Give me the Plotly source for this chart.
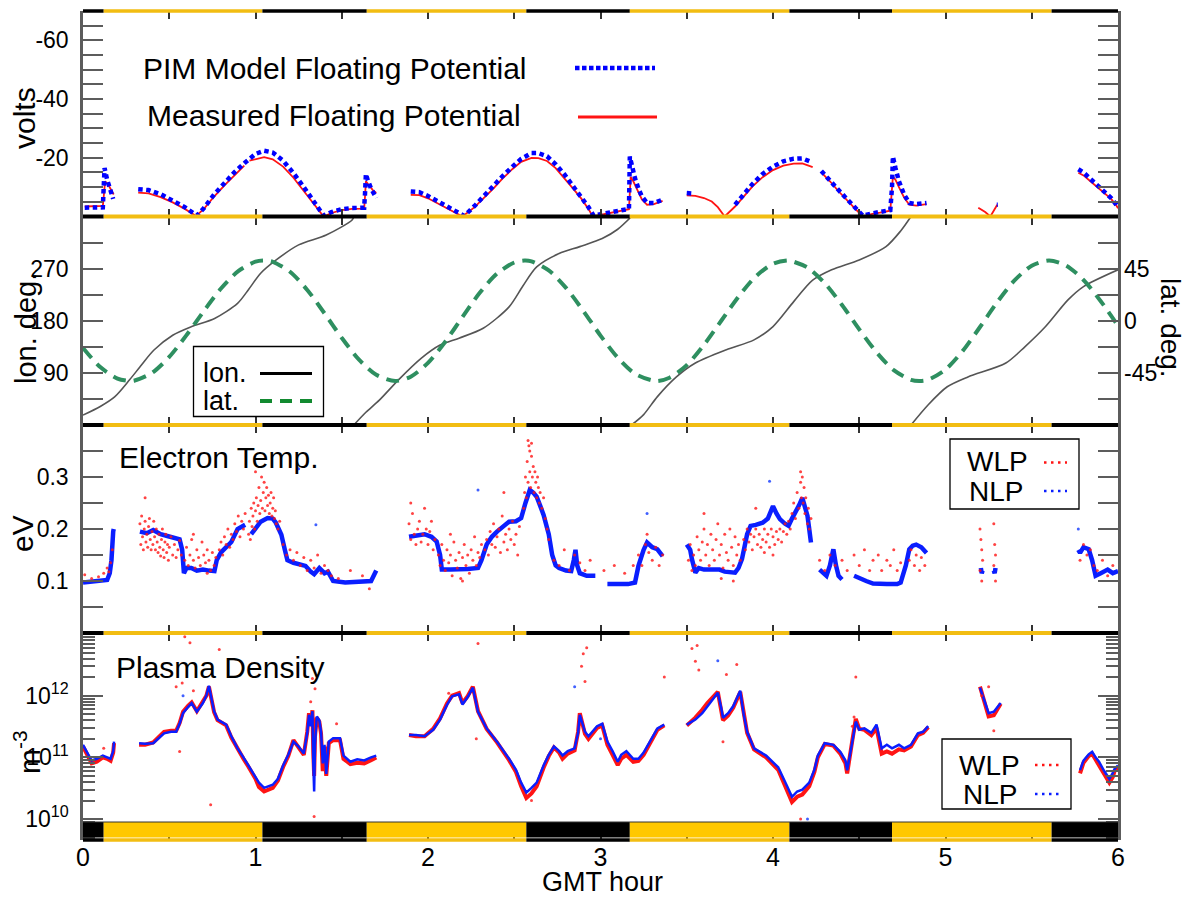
import plotly.graph_objects as go

FONT = "Liberation Sans, Arial, Helvetica, sans-serif"

# ---------------------------------------------------------------- data ----
# Orbit day/night terminator crossings (GMT hour) and state of each interval
terminator_hours = [0.0, 0.12, 1.04, 1.645, 2.57, 3.17, 4.095, 4.69, 5.615, 6.0]
terminator_state = ["night", "day", "night", "day", "night", "day", "night", "day", "night"]

# Floating potential, PIM model (volts)
pim_hour = [0.01, 0.06, 0.115, 0.12, 0.125, 0.14, 0.155, 0.175, None,
            0.32, 0.38, 0.45, 0.52, 0.59, 0.66, 0.70, 0.76, 0.82, 0.88, 0.94, 1.00, 1.05, 1.10,
            1.16, 1.22, 1.28, 1.34, 1.395, 1.44, 1.50, 1.56, 1.63, 1.635, 1.64, 1.65, 1.67, 1.70, None,
            1.90, 1.95, 2.00, 2.06, 2.12, 2.21, 2.27, 2.32, 2.38, 2.43, 2.49, 2.54, 2.60, 2.64,
            2.69, 2.74, 2.79, 2.84, 2.89, 2.93, 2.96, 3.02, 3.08, 3.15, 3.165, 3.17, 3.18, 3.20,
            3.22, 3.24, 3.27, 3.31, 3.36, None,
            3.50, 3.54, None,
            3.78, 3.83, 3.88, 3.94, 4.00, 4.06, 4.12, 4.17, 4.22, None,
            4.28, 4.33, 4.38, 4.42, 4.47, 4.52, 4.57, 4.62, 4.68, 4.69, 4.695, 4.71, 4.73, 4.76,
            4.79, 4.83, 4.89, None,
            5.297, 5.303, None,
            5.77, 5.80, 5.84, 5.88, 5.92, 5.96, 5.99, 6.0]
pim_volts = [-3.0, -3.0, -3.1, -10.0, -16.5, -12.5, -9.5, -6.0, None,
             -9.3, -9.0, -7.6, -5.6, -3.2, -0.3, -2.8, -7.5, -11.6, -15.2, -18.4, -21.3, -22.4, -21.8,
             -19.0, -14.8, -10.0, -4.8, -0.3, -1.5, -2.5, -2.9, -3.0, -8.0, -14.5, -12.5, -9.5, -6.3, None,
             -8.5, -8.3, -7.0, -5.0, -2.9, -0.2, -3.6, -6.8, -10.5, -13.6, -17.0, -19.6, -21.6, -21.6,
             -20.5, -17.8, -14.4, -10.6, -6.8, -3.2, -0.3, -1.0, -1.8, -2.5, -2.6, -20.4, -17.5, -13.0,
             -9.5, -6.8, -4.6, -4.6, -5.7, None,
             -8.0, -7.8, None,
             -4.0, -7.5, -11.0, -14.5, -17.0, -18.8, -19.7, -19.8, -18.6, None,
             -15.5, -12.5, -9.0, -6.5, -3.5, -0.3, -1.0, -1.5, -2.2, -10.0, -20.4, -16.5, -12.0, -7.5,
             -4.6, -4.2, -4.6, None,
             -4.0, -4.0, None,
             -16.1, -15.0, -12.8, -10.6, -8.6, -6.3, -4.0, -3.0]

# Floating potential, measured (volts)
meas_hour = [0.01, 0.06, 0.115, 0.122, 0.128, 0.145, 0.16, 0.178, None,
             0.32, 0.38, 0.45, 0.52, 0.59, 0.655, 0.70, 0.76, 0.82, 0.88, 0.935, None,
             0.965, 1.00, 1.05, 1.10, 1.16, 1.22, 1.28, 1.34, 1.395, 1.44, 1.50, 1.56, 1.63, 1.635,
             1.64, 1.66, 1.68, 1.70, None,
             1.90, 1.95, 2.00, 2.06, 2.12, 2.20, 2.27, 2.32, 2.38, 2.43, 2.49, 2.54, 2.60, 2.64,
             2.69, 2.74, 2.79, 2.84, 2.89, 2.93, 2.955, 3.02, 3.08, 3.15, 3.165, 3.175, 3.19, 3.21,
             3.24, 3.27, 3.31, 3.36, None,
             3.50, 3.55, 3.60, 3.645, 3.68, 3.72, 3.78, 3.83, 3.88, 3.94, 4.00, 4.06, 4.12, 4.17,
             4.23, None,
             4.28, 4.33, 4.38, 4.42, 4.47, 4.52, 4.57, 4.62, 4.68, 4.695, 4.71, 4.73, 4.76, 4.79,
             4.83, 4.89, None,
             5.19, 5.23, 5.26, 5.28, 5.30, None,
             5.77, 5.80, 5.84, 5.88, 5.92, 5.96, 5.99, 6.0]
meas_volts = [-3.4, -3.4, -3.6, -8.0, -12.0, -11.0, -9.2, -7.5, None,
              -8.1, -7.9, -6.6, -4.8, -2.6, -0.2, -2.5, -6.8, -10.6, -14.0, -17.3, None,
              -19.0, -19.6, -20.2, -19.5, -17.0, -13.2, -8.8, -4.0, 0.0, -1.2, -2.2, -2.6, -2.7, -7.0,
              -12.0, -10.5, -9.0, -8.0, None,
              -7.4, -7.3, -6.2, -4.4, -2.4, 0.0, -3.2, -6.0, -9.6, -12.8, -16.2, -18.6, -20.0, -19.9,
              -18.9, -16.5, -13.2, -9.6, -6.0, -2.6, 0.0, -0.8, -1.6, -2.3, -2.5, -13.5, -12.0, -9.5,
              -5.8, -4.0, -4.2, -5.3, None,
              -7.2, -7.0, -6.3, -5.1, -3.2, 0.0, -3.4, -7.0, -10.2, -13.4, -15.8, -17.3, -18.0, -18.1,
              -16.8, None,
              -15.0, -12.0, -8.6, -6.0, -3.0, 0.0, -0.8, -1.3, -2.0, -13.6, -12.5, -10.0, -6.5, -4.0,
              -3.7, -4.2, None,
              -3.0, -1.5, 0.0, -2.0, -4.0, None,
              -14.9, -14.0, -12.0, -10.0, -8.0, -6.0, -3.8, -2.8]

# Ground track: longitude (deg, wraps at 360) and latitude (deg)
lon_hour = [0.0, 0.1, 0.185, 0.27, 0.34, 0.41, 0.52, 0.63, 0.763, 0.896, 0.96, 1.03, 1.12, 1.25,
            1.41, 1.56, 1.57, None,
            1.57, 1.64, 1.718, 1.829, 1.96, 2.07, 2.18, 2.32, 2.47, 2.55, 2.63, 2.76, 2.88, 3.01,
            3.10, 3.18, None,
            3.18, 3.25, 3.33, 3.44, 3.55, 3.73, 3.89, 4.0, 4.12, 4.23, 4.34, 4.50, 4.655, 4.74, 4.80, None,
            4.80, 4.90, 5.01, 5.13, 5.35, 5.46, 5.58, 5.71, 5.80, 6.0]
lon_deg = [17, 32, 49, 78, 104, 129, 155, 170, 184, 210, 234, 262, 285, 311, 328, 354, 360, None,
           0, 22, 43, 78, 115, 138, 150, 167, 204, 240, 273, 296, 308, 322, 338, 360, None,
           0, 18, 49, 83, 107, 130, 147, 170, 213, 250, 268, 285, 308, 335, 360, None,
           0, 35, 66, 83, 107, 135, 170, 216, 239, 268]

lat_hour = [0.0, 0.1, 0.2, 0.27, 0.3, 0.4, 0.5, 0.6, 0.7, 0.8, 0.9, 1.0,
            1.05, 1.1, 1.2, 1.3, 1.4, 1.5, 1.6, 1.7, 1.81,
            1.9, 2.0, 2.1, 2.2, 2.3, 2.4, 2.5, 2.56,
            2.6, 2.7, 2.8, 2.9, 3.0, 3.1, 3.2, 3.32,
            3.4, 3.5, 3.6, 3.7, 3.8, 3.9, 4.0,
            4.08, 4.1, 4.2, 4.3, 4.4, 4.5, 4.6, 4.7, 4.8, 4.85,
            4.9, 5.0, 5.1, 5.2, 5.3, 5.4, 5.5, 5.6,
            5.7, 5.8, 5.9, 6.0]
lat_deg = [-23.5, -40.0, -49.9, -52.0, -51.6, -45.0, -31.2, -12.4, 8.3, 27.8, 42.8, 51.0,
           52.0, 50.9, 42.3, 26.6, 6.4, -14.8, -33.6, -46.7, -52.0,
           -48.3, -36.4, -18.1, 3.3, 24.1, 40.7, 50.3, 52.0,
           51.3, 43.5, 28.4, 8.6, -12.8, -31.9, -45.7, -52.0,
           -49.2, -38.3, -20.8, 0.0, 20.8, 38.3, 49.2,
           52.0, 51.8, 45.9, 32.4, 13.6, -7.4, -27.2, -42.6, -51.0, -52.0,
           -50.9, -42.1, -26.0, -5.4, 16.1, 34.8, 47.5, 52.0,
           47.6, 35.2, 16.9, -4.3]

# Electron temperature, NLP (eV)
te_nlp_hour = [0.0, 0.04, 0.08, 0.12, 0.14, 0.155, 0.165, 0.175, 0.178, None,
               0.33, 0.37, 0.407, 0.45, 0.494, 0.53, 0.56, 0.575, 0.585, 0.60, 0.628, 0.66, 0.695,
               0.73, 0.762, 0.775, 0.80, 0.83, 0.86, 0.896, 0.92, 0.94, None,
               0.975, 1.0, 1.03, 1.07, 1.10, 1.118, 1.15, 1.17, 1.185, 1.22, 1.25, 1.29, 1.32, 1.34,
               1.37, 1.40, 1.42, 1.45, 1.52, 1.58, 1.63, 1.67, 1.70, None,
               1.89, 1.93, 1.98, 2.02, 2.05, 2.07, 2.08, 2.13, 2.18, 2.23, 2.29, 2.31, 2.34, 2.37,
               2.40, 2.44, 2.47, 2.51, 2.54, 2.565, 2.59, 2.61, 2.63, 2.65, 2.67, 2.70, 2.72, 2.74,
               2.76, 2.80, 2.83, 2.845, 2.855, 2.865, 2.88, 2.92, 2.97, None,
               3.04, 3.10, 3.16, 3.20, 3.22, 3.25, 3.27, 3.30, 3.33, 3.36, None,
               3.50, 3.52, 3.53, 3.55, 3.57, 3.60, 3.65, 3.69, 3.72, 3.76, 3.78, 3.80, 3.82, 3.85,
               3.87, 3.90, 3.94, 3.97, 4.0, 4.02, 4.04, 4.07, 4.09, 4.11, 4.13, 4.15, 4.17, 4.19,
               4.20, 4.21, 4.22, None,
               4.27, 4.29, 4.31, 4.33, 4.35, 4.365, 4.38, 4.40, None,
               4.47, 4.50, 4.54, 4.58, 4.61, 4.66, 4.72, 4.74, 4.77, 4.79, 4.81, 4.83, 4.86, 4.89, None,
               5.205, 5.21, 5.215, None, 5.28, 5.285, 5.29, None,
               5.77, 5.78, 5.80, 5.83, 5.85, 5.87, 5.90, 5.94, 5.97, 6.0]
te_nlp_ev = [0.097, 0.098, 0.099, 0.100, 0.102, 0.115, 0.14, 0.195, 0.20, None,
             0.195, 0.192, 0.198, 0.19, 0.186, 0.183, 0.180, 0.16, 0.115, 0.125, 0.125, 0.12, 0.122,
             0.12, 0.119, 0.14, 0.155, 0.165, 0.175, 0.200, 0.205, 0.208, None,
             0.19, 0.20, 0.214, 0.221, 0.22, 0.212, 0.189, 0.16, 0.14, 0.135, 0.132, 0.129, 0.118, 0.113,
             0.125, 0.115, 0.118, 0.10, 0.097, 0.098, 0.099, 0.10, 0.12, None,
             0.185, 0.188, 0.19, 0.185, 0.176, 0.15, 0.122, 0.122, 0.122, 0.123, 0.125, 0.14, 0.17, 0.185,
             0.195, 0.205, 0.214, 0.215, 0.221, 0.25, 0.275, 0.27, 0.262, 0.245, 0.227, 0.19, 0.15, 0.13,
             0.125, 0.12, 0.119, 0.14, 0.16, 0.13, 0.115, 0.11, 0.11, None,
             0.094, 0.095, 0.094, 0.097, 0.129, 0.16, 0.174, 0.165, 0.161, 0.148, None,
             0.17, 0.16, 0.142, 0.116, 0.125, 0.122, 0.122, 0.122, 0.118, 0.116, 0.116, 0.125, 0.142, 0.19,
             0.206, 0.208, 0.212, 0.22, 0.244, 0.23, 0.219, 0.21, 0.206, 0.22, 0.231, 0.245, 0.26, 0.24,
             0.225, 0.2, 0.174, None,
             0.122, 0.115, 0.11, 0.13, 0.161, 0.13, 0.11, 0.103, None,
             0.11, 0.105, 0.10, 0.095, 0.094, 0.094, 0.094, 0.097, 0.13, 0.161, 0.168, 0.17, 0.165, 0.154, None,
             0.125, 0.115, 0.12, None, 0.12, 0.115, 0.125, None,
             0.16, 0.154, 0.165, 0.161, 0.14, 0.11, 0.115, 0.122, 0.115, 0.119]
te_nlp_stray = [(1.25, 0.316), (2.29, 0.275), (1.35, 0.208), (3.98, 0.292), (3.27, 0.23), (5.77, 0.2)]

# Electron temperature, WLP samples (hour, eV)
te_wlp = [
    (0.01, 0.112), (0.05, 0.105), (0.09, 0.108), (0.12, 0.115), (0.14, 0.125), (0.15, 0.118),
    (0.16, 0.135), (0.17, 0.16),
    (0.33, 0.21), (0.335, 0.17), (0.34, 0.225), (0.345, 0.185), (0.35, 0.16), (0.355, 0.2),
    (0.36, 0.215), (0.365, 0.175), (0.37, 0.19), (0.375, 0.165), (0.38, 0.205), (0.385, 0.22),
    (0.39, 0.18), (0.395, 0.16), (0.40, 0.195), (0.405, 0.17), (0.41, 0.215), (0.415, 0.185),
    (0.42, 0.16), (0.425, 0.2), (0.43, 0.175), (0.435, 0.155), (0.44, 0.19), (0.445, 0.165),
    (0.45, 0.148), (0.455, 0.18), (0.46, 0.2), (0.465, 0.16), (0.47, 0.145), (0.475, 0.175),
    (0.48, 0.19), (0.485, 0.155), (0.49, 0.17), (0.495, 0.14), (0.50, 0.165), (0.51, 0.185),
    (0.52, 0.15), (0.53, 0.17), (0.54, 0.145), (0.55, 0.16), (0.56, 0.178), (0.57, 0.15), (0.36, 0.26),
    (0.59, 0.14), (0.60, 0.165), (0.61, 0.13), (0.62, 0.15), (0.63, 0.18), (0.64, 0.14), (0.65, 0.125),
    (0.66, 0.16), (0.67, 0.145), (0.68, 0.13), (0.69, 0.175), (0.70, 0.15), (0.71, 0.135), (0.72, 0.16),
    (0.73, 0.14), (0.74, 0.12), (0.75, 0.155), (0.76, 0.13), (0.77, 0.145), (0.64, 0.19), (0.72, 0.115),
    (0.79, 0.16), (0.80, 0.175), (0.81, 0.15), (0.82, 0.185), (0.83, 0.17), (0.84, 0.2), (0.85, 0.165),
    (0.86, 0.19), (0.87, 0.18), (0.88, 0.21), (0.89, 0.195), (0.90, 0.225), (0.91, 0.185), (0.92, 0.215),
    (0.93, 0.2), (0.94, 0.23),
    (0.96, 0.19), (0.965, 0.215), (0.97, 0.18), (0.975, 0.24), (0.98, 0.205), (0.985, 0.225),
    (0.99, 0.25), (0.995, 0.2), (1.0, 0.235), (1.005, 0.26), (1.01, 0.215), (1.015, 0.245),
    (1.02, 0.28), (1.025, 0.23), (1.03, 0.255), (1.035, 0.3), (1.04, 0.24), (1.045, 0.27),
    (1.05, 0.29), (1.055, 0.235), (1.06, 0.26), (1.065, 0.28), (1.07, 0.245), (1.075, 0.265),
    (1.08, 0.23), (1.085, 0.25), (1.09, 0.27), (1.095, 0.225), (1.10, 0.24), (1.105, 0.26),
    (1.11, 0.22), (1.115, 0.235), (1.12, 0.21), (1.13, 0.2), (1.14, 0.215), (1.0, 0.31),
    (1.16, 0.17), (1.18, 0.15), (1.20, 0.16), (1.22, 0.14), (1.24, 0.155), (1.26, 0.13), (1.28, 0.145),
    (1.30, 0.12), (1.32, 0.14), (1.34, 0.125), (1.36, 0.15), (1.38, 0.115), (1.40, 0.13), (1.42, 0.12),
    (1.44, 0.11), (1.48, 0.105), (1.55, 0.12), (1.62, 0.11), (1.66, 0.085),
    (1.89, 0.21), (1.90, 0.18), (1.91, 0.23), (1.92, 0.19), (1.93, 0.17), (1.94, 0.2), (1.95, 0.215),
    (1.96, 0.175), (1.97, 0.19), (1.98, 0.24), (1.99, 0.2), (2.0, 0.17), (2.01, 0.195), (2.02, 0.215),
    (2.03, 0.16), (2.04, 0.18), (1.90, 0.25),
    (2.06, 0.15), (2.07, 0.13), (2.08, 0.17), (2.09, 0.14), (2.10, 0.12), (2.11, 0.16), (2.12, 0.135),
    (2.13, 0.15), (2.14, 0.11), (2.15, 0.175), (2.16, 0.14), (2.17, 0.125), (2.18, 0.155), (2.19, 0.105),
    (2.20, 0.145), (2.21, 0.17), (2.22, 0.13), (2.23, 0.15), (2.24, 0.115), (2.25, 0.16), (2.26, 0.14),
    (2.27, 0.185), (2.28, 0.13), (2.29, 0.155), (2.30, 0.145), (2.31, 0.17), (2.13, 0.19), (2.20, 0.10),
    (2.33, 0.16), (2.34, 0.18), (2.35, 0.15), (2.36, 0.195), (2.37, 0.17), (2.38, 0.21), (2.39, 0.165),
    (2.40, 0.185), (2.41, 0.2), (2.42, 0.155), (2.43, 0.225), (2.44, 0.175), (2.45, 0.19), (2.46, 0.16),
    (2.47, 0.2), (2.48, 0.18), (2.49, 0.215), (2.50, 0.17), (2.51, 0.19), (2.52, 0.15), (2.53, 0.205),
    (2.44, 0.27),
    (2.555, 0.24), (2.56, 0.27), (2.565, 0.3), (2.57, 0.26), (2.575, 0.33), (2.58, 0.29), (2.585, 0.36),
    (2.59, 0.31), (2.595, 0.28), (2.60, 0.34), (2.605, 0.3), (2.61, 0.32), (2.615, 0.27), (2.62, 0.31),
    (2.625, 0.29), (2.63, 0.26), (2.635, 0.3), (2.64, 0.28), (2.645, 0.25), (2.65, 0.27), (2.66, 0.24),
    (2.67, 0.26), (2.68, 0.22), (2.69, 0.2), (2.70, 0.18), (2.58, 0.37), (2.59, 0.35), (2.60, 0.365),
    (2.73, 0.14), (2.76, 0.13), (2.79, 0.16), (2.82, 0.12), (2.85, 0.15), (2.88, 0.135), (2.91, 0.12),
    (2.94, 0.14), (3.02, 0.12), (3.08, 0.13), (3.14, 0.115), (3.19, 0.13),
    (3.22, 0.15), (3.24, 0.13), (3.26, 0.17), (3.28, 0.155), (3.30, 0.14), (3.32, 0.165), (3.34, 0.13),
    (3.36, 0.15), (3.27, 0.19),
    (3.51, 0.14), (3.52, 0.17), (3.53, 0.12), (3.54, 0.15), (3.55, 0.13), (3.56, 0.185), (3.57, 0.16),
    (3.58, 0.14), (3.59, 0.175), (3.60, 0.2), (3.61, 0.15), (3.62, 0.17), (3.63, 0.13), (3.64, 0.19),
    (3.65, 0.16), (3.66, 0.14), (3.67, 0.18), (3.68, 0.21), (3.69, 0.15), (3.70, 0.17), (3.71, 0.125),
    (3.72, 0.19), (3.73, 0.155), (3.74, 0.14), (3.75, 0.2), (3.76, 0.165), (3.77, 0.13), (3.78, 0.185),
    (3.79, 0.15), (3.80, 0.17), (3.81, 0.14), (3.60, 0.23), (3.70, 0.105), (3.77, 0.1),
    (3.83, 0.18), (3.84, 0.16), (3.85, 0.2), (3.86, 0.175), (3.87, 0.19), (3.88, 0.16), (3.89, 0.185),
    (3.90, 0.2), (3.91, 0.17), (3.92, 0.19), (3.93, 0.165), (3.94, 0.18), (3.95, 0.2), (3.96, 0.175),
    (3.97, 0.19), (3.98, 0.165), (3.99, 0.2), (4.00, 0.185), (4.01, 0.17), (4.02, 0.195), (4.03, 0.18),
    (4.04, 0.2), (4.05, 0.175), (4.06, 0.195), (4.07, 0.21), (4.08, 0.19), (4.09, 0.215), (4.10, 0.2),
    (3.95, 0.155), (4.0, 0.15), (3.90, 0.24),
    (4.11, 0.23), (4.12, 0.25), (4.13, 0.22), (4.14, 0.27), (4.15, 0.24), (4.16, 0.29), (4.165, 0.26),
    (4.17, 0.3), (4.175, 0.25), (4.18, 0.28), (4.185, 0.23), (4.19, 0.26), (4.20, 0.21), (4.205, 0.24),
    (4.21, 0.2), (4.22, 0.22), (4.16, 0.31),
    (4.27, 0.14), (4.30, 0.12), (4.33, 0.15), (4.36, 0.13), (4.40, 0.14), (4.43, 0.12),
    (4.47, 0.15), (4.50, 0.13), (4.53, 0.16), (4.56, 0.12), (4.58, 0.14), (4.61, 0.15), (4.63, 0.12),
    (4.66, 0.14), (4.68, 0.13), (4.70, 0.16), (4.72, 0.12), (4.74, 0.135),
    (4.79, 0.14), (4.80, 0.16), (4.82, 0.13), (4.83, 0.15), (4.85, 0.12), (4.86, 0.145), (4.88, 0.13),
    (5.20, 0.2), (5.205, 0.18), (5.21, 0.16), (5.215, 0.14), (5.20, 0.12), (5.21, 0.1),
    (5.28, 0.21), (5.285, 0.17), (5.29, 0.15), (5.28, 0.13), (5.29, 0.1),
    (5.78, 0.14), (5.80, 0.17), (5.82, 0.15), (5.84, 0.16), (5.86, 0.13), (5.88, 0.12), (5.91, 0.14),
    (5.94, 0.11), (5.97, 0.13),
]

# Plasma density (m^-3): shared sample hours, NLP and WLP values
ne_hour = [0.0, 0.03, 0.05, 0.08, 0.115, 0.14, 0.16, 0.175, 0.18, None,
           0.325, 0.36, 0.407, 0.44, 0.47, 0.51, 0.54, 0.56, 0.58, 0.61, 0.63, 0.66, 0.695, 0.715, 0.73,
           0.745, 0.76, 0.78, 0.83, 0.86, 0.896, 0.93, 0.96, 1.0, 1.02, 1.05, 1.1, 1.13, 1.16, 1.19,
           1.22, 1.25, 1.28, 1.30, 1.31, 1.32, 1.33, 1.335, 1.34, 1.345, 1.355, 1.37, 1.38, 1.39, 1.40,
           1.41, 1.425, 1.45, 1.49, 1.51, 1.55, 1.59, 1.63, 1.67, 1.70, None,
           1.89, 1.93, 1.98, 2.03, 2.07, 2.11, 2.14, 2.18, 2.20, 2.23, 2.26, 2.29, 2.34, 2.40, 2.47,
           2.51, 2.54, 2.57, 2.60, 2.63, 2.67, 2.70, 2.73, 2.76, 2.78, 2.81, 2.85, 2.87, 2.88, 2.895,
           2.91, 2.93, 2.96, 2.98, 3.01, 3.04, 3.07, 3.10, 3.12, 3.15, 3.19, 3.22, 3.25, 3.27, 3.30,
           3.33, 3.37, None,
           3.50, 3.55, 3.59, 3.62, 3.68, 3.70, 3.71, 3.74, 3.77, 3.81, 3.83, 3.85, 3.89, 3.96, 4.03,
           4.08, 4.11, 4.14, 4.17, 4.21, 4.24, 4.26, 4.30, 4.35, 4.39, 4.42, 4.43, 4.46, 4.48, 4.50,
           4.53, 4.57, 4.60, 4.63, 4.66, 4.69, 4.73, 4.76, 4.80, 4.84, 4.87, 4.90, None,
           5.20, 5.23, 5.25, 5.28, 5.30, 5.32, None,
           5.78, 5.80, 5.83, 5.85, 5.87, 5.89, 5.92, 5.95, 5.97, 5.98, 6.0]
ne_nlp = [1.6e11, 1.1e11, 8.9e10, 9.5e10, 1.07e11, 1.0e11, 9.5e10, 1.26e11, 1.8e11, None,
          1.7e11, 1.66e11, 1.7e11, 2.1e11, 2.45e11, 2.6e11, 2.6e11, 3.5e11, 5.2e11, 6.6e11, 7.6e11,
          5.5e11, 7.6e11, 1.0e12, 1.45e12, 8.9e11, 5.6e11, 4.1e11, 3.4e11, 2.2e11, 1.4e11, 1.0e11,
          7.4e10, 5.0e10, 3.9e10, 3.2e10, 3.6e10, 4.5e10, 7.4e10, 1.1e11, 1.8e11, 1.5e11, 1.15e11,
          2.5e11, 4.9e11, 3.2e11, 5.6e11, 8.0e10, 2.8e10, 1.6e11, 4.6e11, 4.0e11, 2.6e11, 8.0e10,
          1.6e11, 5.4e10, 1.8e11, 2.05e11, 2.05e11, 1.07e11, 8.5e10, 9.3e10, 8.9e10, 1.0e11, 1.07e11, None,
          2.3e11, 2.3e11, 2.2e11, 2.8e11, 4.1e11, 7.1e11, 9.8e11, 1.05e12, 7.2e11, 9.5e11, 1.35e12,
          5.5e11, 2.95e11, 1.8e11, 9.5e10, 6.3e10, 3.9e10, 2.7e10, 3.2e10, 3.9e10, 7.4e10, 1.1e11,
          1.5e11, 1.26e11, 1.07e11, 1.26e11, 1.4e11, 2.5e11, 4.9e11, 3.5e11, 2.6e11, 2.2e11, 2.8e11,
          3.2e11, 3.5e11, 1.8e11, 1.26e11, 8.5e10, 1.1e11, 1.26e11, 9.5e10, 9.5e10, 1.2e11, 1.5e11,
          2.0e11, 2.95e11, 3.4e11, None,
          3.4e11, 4.1e11, 5.2e11, 6.8e11, 1.12e12, 6.3e11, 4.4e11, 5.2e11, 6.8e11, 1.2e12, 5.0e11,
          2.6e11, 1.4e11, 1.07e11, 6.9e10, 3.5e10, 2.3e10, 2.8e10, 3.0e10, 3.9e10, 6.3e10, 1.07e11,
          1.7e11, 1.6e11, 1.23e11, 8.9e10, 6.2e10, 1.8e11, 3.8e11, 2.8e11, 2.95e11, 2.5e11, 3.4e11,
          1.4e11, 1.6e11, 1.4e11, 1.6e11, 1.4e11, 1.6e11, 2.45e11, 2.6e11, 3.2e11, None,
          1.35e12, 7.9e11, 5.2e11, 5.5e11, 6.6e11, 7.6e11, None,
          6.2e10, 8.9e10, 1.12e11, 1.23e11, 1.0e11, 8.5e10, 6.0e10, 4.5e10, 5.6e10, 6.5e10, 7.4e10]
ne_wlp = [1.5e11, 1.0e11, 8.0e10, 8.5e10, 1.0e11, 9.5e10, 8.8e10, 1.2e11, 1.7e11, None,
          1.6e11, 1.6e11, 1.75e11, 2.2e11, 2.6e11, 2.7e11, 2.7e11, 3.6e11, 5.5e11, 6.9e11, 7.8e11,
          5.6e11, 7.8e11, 1.0e12, 1.4e12, 8.6e11, 5.4e11, 4.0e11, 3.3e11, 2.1e11, 1.35e11, 9.5e10,
          7.0e10, 4.5e10, 3.3e10, 2.8e10, 3.2e10, 4.2e10, 7.0e10, 1.05e11, 1.9e11, 1.45e11, 1.1e11,
          2.6e11, 5.2e11, 3.3e11, 5.8e11, 1.2e11, 5.0e10, 2.2e11, 4.4e11, 3.8e11, 2.4e11, 6.0e10,
          1.5e11, 5.0e10, 1.7e11, 1.9e11, 1.9e11, 9.5e10, 7.8e10, 8.2e10, 8.0e10, 9.0e10, 1.0e11, None,
          2.3e11, 2.2e11, 2.2e11, 2.9e11, 4.3e11, 7.5e11, 1.0e12, 1.1e12, 7.6e11, 9.8e11, 1.4e12,
          5.6e11, 2.9e11, 1.75e11, 9.0e10, 5.8e10, 3.4e10, 2.2e10, 2.6e10, 3.4e10, 6.8e10, 1.05e11,
          1.45e11, 1.2e11, 9.5e10, 1.15e11, 1.3e11, 2.6e11, 5.2e11, 3.4e11, 2.4e11, 2.0e11, 2.6e11,
          3.0e11, 3.3e11, 1.6e11, 1.1e11, 7.5e10, 9.5e10, 1.1e11, 8.5e10, 8.8e10, 1.1e11, 1.4e11,
          1.9e11, 2.8e11, 3.3e11, None,
          3.3e11, 4.4e11, 5.9e11, 7.6e11, 1.15e12, 6.0e11, 4.0e11, 4.8e11, 6.4e11, 1.15e12, 5.2e11,
          2.5e11, 1.35e11, 1.0e11, 6.3e10, 3.0e10, 1.9e10, 2.3e10, 2.5e10, 3.4e10, 5.8e10, 1.0e11,
          1.65e11, 1.55e11, 1.15e11, 8.0e10, 5.5e10, 1.9e11, 4.2e11, 2.9e11, 2.8e11, 2.3e11, 3.0e11,
          1.15e11, 1.25e11, 1.15e11, 1.35e11, 1.3e11, 1.5e11, 2.3e11, 2.5e11, 3.1e11, None,
          1.4e12, 7.2e11, 4.6e11, 4.8e11, 6.2e11, 7.4e11, None,
          5.5e10, 8.2e10, 1.05e11, 1.15e11, 9.2e10, 7.5e10, 5.2e10, 3.9e10, 4.8e10, 6.0e10, 6.8e10]
ne_wlp_stray = [(0.575, 1.6e12), (0.59, 9.0e12), (0.62, 7.2e12), (0.79, 5.6e12), (0.56, 1.25e11),
                (0.74, 1.7e10), (0.54, 1.4e12), (0.64, 1.2e12), (1.33, 1.9e12), (1.345, 1.3e12),
                (1.34, 1.1e10), (1.32, 8.0e11), (1.47, 3.5e11), (2.29, 7.0e12), (2.12, 1.1e12),
                (2.28, 2.0e11), (2.90, 4.8e12), (2.89, 3.0e12), (2.91, 1.7e12), (2.92, 6.0e12),
                (3.37, 2.0e12), (3.53, 5.8e12), (3.55, 3.6e12), (3.57, 2.6e12), (3.56, 6.5e12),
                (3.73, 2.2e12), (3.79, 3.2e12), (3.71, 1.8e11), (4.48, 2.0e12), (4.46, 3.2e11),
                (4.47, 4.5e11), (5.28, 2.7e11), (5.21, 1.0e12), (5.25, 1.4e12), (4.16, 1.0e10),
                (2.60, 2.0e10), (0.12, 1.4e11)]
ne_nlp_stray = [(3.68, 3.7e12), (4.20, 1.0e10), (0.58, 1.0e12), (2.85, 1.4e12), (3.00, 2.0e11)]

# Tick labels
volt_ticks, volt_labels = [-60, -40, -20], ["-60", "-40", "-20"]
lon_ticks, lon_labels = [90, 180, 270], ["90", "180", "270"]
lat_ticks, lat_labels = [-45, 0, 45], ["-45", "0", "45"]
te_ticks, te_labels = [0.1, 0.2, 0.3], ["0.1", "0.2", "0.3"]
ne_ticks, ne_labels = [1e10, 1e11, 1e12], ["10<sup>10</sup>", "10<sup>11</sup>", "10<sup>12</sup>"]

# ---------------------------------------------------------------- layout ---
W, H = 1188, 899
ML, MR, MT, MB = 83, 70, 11, 59
PW, PH = W - ML - MR, H - MT - MB


def px(x):
    return (x - ML) / PW


def py(y):
    return (H - MB - y) / PH


DOM1 = [py(216.5), 1.0]
DOM2 = [py(425), py(216.5)]
DOM3 = [py(633), py(425)]
DOM4 = [0.0, py(633)]

FRAME = "#5c5c5c"
BLUE = "#0a1eff"
RED = "#ff1414"

fig = go.Figure()

# panel 1: floating potential
fig.add_trace(go.Scatter(x=meas_hour, y=meas_volts, mode="lines", xaxis="x", yaxis="y",
                         line=dict(color=RED, width=1.8), hoverinfo="skip"))
fig.add_trace(go.Scatter(x=pim_hour, y=pim_volts, mode="lines", xaxis="x", yaxis="y",
                         line=dict(color="#0000ff", width=4.5, dash="4.5px,3.5px"), hoverinfo="skip"))

# panel 2: ground track
fig.add_trace(go.Scatter(x=lon_hour, y=lon_deg, mode="lines", xaxis="x2", yaxis="y2",
                         line=dict(color="#555555", width=1.6, shape="spline", smoothing=0.8)))
fig.add_trace(go.Scatter(x=lat_hour, y=lat_deg, mode="lines", xaxis="x2", yaxis="y5",
                         line=dict(color="#2e8f60", width=4, dash="13px,8px", shape="spline",
                                   smoothing=0.8)))

# panel 3: electron temperature
fig.add_trace(go.Scatter(x=te_nlp_hour, y=te_nlp_ev, mode="lines", xaxis="x3", yaxis="y3",
                         line=dict(color=BLUE, width=4.5)))
fig.add_trace(go.Scatter(x=[p[0] for p in te_nlp_stray], y=[p[1] for p in te_nlp_stray],
                         mode="markers", xaxis="x3", yaxis="y3",
                         marker=dict(color="#4060ff", size=3)))
fig.add_trace(go.Scatter(x=[p[0] for p in te_wlp], y=[p[1] for p in te_wlp],
                         mode="markers", xaxis="x3", yaxis="y3",
                         marker=dict(color=RED, size=3, opacity=0.8)))

# panel 4: plasma density
fig.add_trace(go.Scatter(x=ne_hour, y=ne_wlp, mode="lines", xaxis="x4", yaxis="y4",
                         line=dict(color=RED, width=4)))
fig.add_trace(go.Scatter(x=ne_hour, y=ne_nlp, mode="lines", xaxis="x4", yaxis="y4",
                         line=dict(color=BLUE, width=2.5)))
fig.add_trace(go.Scatter(x=[p[0] for p in ne_wlp_stray], y=[p[1] for p in ne_wlp_stray],
                         mode="markers", xaxis="x4", yaxis="y4",
                         marker=dict(color=RED, size=3, opacity=0.8)))
fig.add_trace(go.Scatter(x=[p[0] for p in ne_nlp_stray], y=[p[1] for p in ne_nlp_stray],
                         mode="markers", xaxis="x4", yaxis="y4",
                         marker=dict(color="#4060ff", size=3)))

tick_font = dict(family=FONT, size=23, color="black")
half_hours = [h / 2 for h in range(13)]


def x_axis(anchor, labels):
    return dict(domain=[0, 1], anchor=anchor, range=[0, 6], showgrid=False, zeroline=False,
                showline=False, ticks="inside", ticklen=8, tickwidth=1.5, tickcolor="#333333",
                mirror="ticks", tickmode="array", tickvals=half_hours,
                ticktext=[str(int(h)) if h == int(h) else "" for h in half_hours],
                showticklabels=labels, tickfont=dict(family=FONT, size=25, color="black"),
                ticklabelstandoff=0)


def y_axis(domain, **kw):
    base = dict(domain=domain, anchor=kw.pop("anchor", "x"), showgrid=False, zeroline=False,
                showline=True, linecolor=FRAME, linewidth=2.5, mirror="ticks",
                ticks="inside", ticklen=20, tickwidth=2, tickcolor=FRAME, tickfont=tick_font,
                ticklabelstandoff=7)
    base.update(kw)
    return base


minor_log = [k * 10 ** e for e in (9, 10, 11, 12) for k in range(2, 10)]

fig.update_layout(
    width=W, height=H, margin=dict(l=ML, r=MR, t=MT, b=MB),
    paper_bgcolor="white", plot_bgcolor="white", showlegend=False,
    font=dict(family=FONT, color="black"),
    xaxis=x_axis("y", False),
    xaxis2=x_axis("y2", False),
    xaxis3=x_axis("y3", False),
    xaxis4=x_axis("y4", True),
    yaxis=y_axis(DOM1, anchor="x", range=[0, -70], tickmode="array", tickvals=volt_ticks,
                 ticktext=volt_labels,
                 minor=dict(dtick=5, tick0=0, ticks="inside", ticklen=20, tickwidth=2,
                            tickcolor=FRAME)),
    yaxis2=y_axis(DOM2, anchor="x2", range=[0, 360], tickmode="array", tickvals=lon_ticks,
                  ticktext=lon_labels,
                  minor=dict(dtick=45, tick0=0, ticks="inside", ticklen=20, tickwidth=2,
                             tickcolor=FRAME)),
    yaxis3=y_axis(DOM3, anchor="x3", range=[0, 0.4], tickmode="array", tickvals=te_ticks,
                  ticktext=te_labels,
                  minor=dict(dtick=0.05, tick0=0, ticks="inside", ticklen=20, tickwidth=2,
                             tickcolor=FRAME)),
    yaxis4=y_axis(DOM4, anchor="x4", type="log", range=[9.661, 13.016], tickmode="array",
                  tickvals=ne_ticks, ticktext=ne_labels,
                  minor=dict(tickmode="array", tickvals=minor_log, ticks="inside", ticklen=12,
                             tickwidth=2, tickcolor=FRAME)),
    yaxis5=dict(domain=DOM2, anchor="x2", overlaying="y2", side="right", range=[-90, 90],
                showgrid=False, zeroline=False, showline=False, ticks="", tickmode="array",
                tickvals=lat_ticks, ticktext=lat_labels, tickfont=tick_font, ticklabelstandoff=5),
)

# ---- day/night bars along every panel edge
DAY, NIGHT = "#f2bd12", "#000000"
shapes = []
for row, width in ((1.0, 3.5), (DOM1[0], 4), (DOM2[0], 4), (DOM3[0], 4), (0.0, 3.5)):
    for i, state in enumerate(terminator_state):
        shapes.append(dict(type="line", xref="x", yref="paper", layer="above",
                           x0=terminator_hours[i], x1=terminator_hours[i + 1], y0=row, y1=row,
                           line=dict(color=DAY if state == "day" else NIGHT, width=width)))
for i, state in enumerate(terminator_state):
    shapes.append(dict(type="rect", xref="x", yref="paper", layer="above",
                       x0=terminator_hours[i], x1=terminator_hours[i + 1],
                       y0=py(837.5), y1=py(822), line=dict(width=0),
                       fillcolor="#ffc800" if state == "day" else NIGHT))
shapes.append(dict(type="line", xref="paper", yref="paper", layer="above", x0=0, x1=1,
                   y0=py(822), y1=py(822), line=dict(color="#333333", width=1)))


# ---- legend boxes and keys
def box(x0, y0, x1, y1):
    shapes.append(dict(type="rect", xref="paper", yref="paper", layer="above",
                       x0=px(x0), x1=px(x1), y0=py(y1), y1=py(y0),
                       fillcolor="white", line=dict(color="black", width=1.3)))


def key(x0, x1, y, color, width, dash):
    shapes.append(dict(type="line", xref="paper", yref="paper", layer="above",
                       x0=px(x0), x1=px(x1), y0=py(y), y1=py(y),
                       line=dict(color=color, width=width, dash=dash)))


key(575, 655, 68, "#0000ff", 4.5, "4.5px,2.5px")
key(578, 657, 117, RED, 3, "solid")

box(193.5, 346.5, 323.5, 416.5)
key(260, 312, 373.5, "black", 3, "solid")
key(260, 318, 401, "#128a30", 4, "12px,8px")

box(950, 439, 1079, 509)
key(1044, 1067, 462.5, RED, 2.5, "2.5px,4.5px")
key(1044, 1067, 491, BLUE, 2.5, "2.5px,4.5px")

box(942, 739, 1071, 809)
key(1035, 1060, 765, RED, 2.5, "2.5px,4.5px")
key(1035, 1060, 794, BLUE, 2.5, "2.5px,4.5px")

fig.update_layout(shapes=shapes)


# ---- text
def label(text, x, y, size=30, anchor="left", angle=0):
    fig.add_annotation(text=text, xref="paper", yref="paper", x=px(x), y=py(y),
                       xanchor=anchor, yanchor="middle", showarrow=False, textangle=angle,
                       font=dict(family=FONT, size=size, color="black"))


label("PIM Model Floating Potential", 141, 68)
label("Measured Floating Potential", 145, 115)
label("lon.", 201, 373, size=27)
label("lat.", 201, 401, size=27)
label("Electron Temp.", 117, 457)
label("Plasma Density", 114, 667)
label("WLP", 965, 462, size=28)
label("NLP", 967, 491, size=28)
label("WLP", 957, 765, size=28)
label("NLP", 961, 794, size=28)

label("volts", 24, 118, size=30, anchor="center", angle=-90)
label("lon. deg.", 26, 329, size=29, anchor="center", angle=-90)
label("eV", 22, 534, size=30, anchor="center", angle=-90)
label("m<sup>-3</sup>", 27, 752, size=30, anchor="center", angle=-90)
label("lat. deg.", 1171, 328, size=28, anchor="center", angle=90)
label("GMT hour", 602, 882, size=27, anchor="center")

fig.write_html("out.html")
